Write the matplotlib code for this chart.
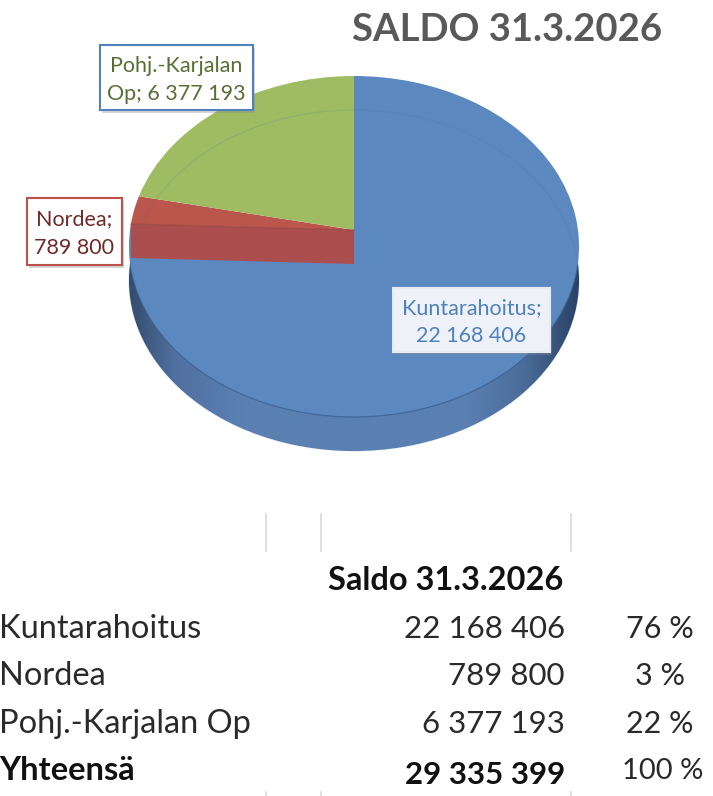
#!/usr/bin/env python3

import numpy as np
import matplotlib
matplotlib.use("Agg")
from matplotlib import pyplot as plt
from matplotlib.colors import LinearSegmentedColormap
from matplotlib.patches import Rectangle
from matplotlib.transforms import Transform

title = "SALDO 31.3.2026"
table_header = "Saldo 31.3.2026"
names = ["Kuntarahoitus", "Nordea", "Pohj.-Karjalan Op"]
values = [22168406, 789800, 6377193]
value_labels = ["22 168 406", "789 800", "6 377 193"]
percents = ["76 %", "3 %", "22 %"]
total_name = "Yhteensä"
total_label = "29 335 399"
total_percent = "100 %"
colors = ["#5b88bf", "#bb564c", "#9fbc63"]

W, H = 713, 796
CX, CY = 354, 230      # pie apex in pixels
DEPTH = 34             # height of the 3d wall
KP = 0.0968            # perspective of the tilted disc
RX, RY = 224, 168.9


class Tilt(Transform):
    # unit pie -> tilted disc in pixels
    input_dims = output_dims = 2

    def __init__(self, dy=0):
        super().__init__()
        self.dy = dy

    def transform_non_affine(self, xy):
        xy = np.asarray(xy)
        w = 1 + KP * xy[:, 1]
        return np.column_stack([CX + RX * xy[:, 0] / w,
                                CY + self.dy - RY * xy[:, 1] / w])


plt.rcParams["font.family"] = ["Lato", "DejaVu Sans"]
fig = plt.figure(figsize=(W / 100, H / 100), dpi=100)
ax = fig.add_axes([0, 0, 1, 1])

wedges, _ = ax.pie(values, startangle=90, counterclock=False, colors=colors)
ax.set_aspect("auto")
ax.set_xlim(0, W)
ax.set_ylim(H, 0)
ax.axis("off")

top = Tilt() + ax.transData
low = Tilt(DEPTH) + ax.transData

# wall, drawn as the lower disc with a sideways gradient
wall_cmap = LinearSegmentedColormap.from_list(
    "wall", [(0, "#344c6e"), (0.1, "#5070a0"), (0.25, "#5a80b2"), (0.75, "#5a80b2"),
             (0.88, "#4a6c98"), (1, "#2a4266")])
wall = ax.imshow(np.linspace(0, 1, 256).reshape(1, -1), cmap=wall_cmap,
                 extent=(129, 579, 460, 240), aspect="auto", zorder=1)
disc = ax.pie([1], center=(0, 0), colors=["none"])[0][0]
disc.set_transform(low)
wall.set_clip_path(disc)
ax.set_aspect("auto")
ax.set_xlim(0, W)
ax.set_ylim(H, 0)
ax.axis("off")

for w in wedges:
    w.set_transform(top)
    w.set_zorder(2)
    w.set_edgecolor("none")

# inner wall of the red slice shows through
red_theta = np.deg2rad(90 - 360 * values[0] / sum(values))
ex, ey = np.cos(red_theta), np.sin(red_theta)
t = np.array([[0, 0], [ex, ey]])
p = Tilt().transform_non_affine(t)
ax.fill([p[0, 0], p[1, 0], p[1, 0], p[0, 0]],
        [p[0, 1], p[1, 1], p[1, 1] + DEPTH, p[0, 1] + DEPTH],
        color="#ad4e4e", zorder=3, lw=0)
ax.plot(p[:, 0], p[:, 1], color="#96403c", lw=0.8, alpha=0.7, zorder=4)

# back edge of the lower disc, faint through the top
theta = np.linspace(0, 2 * np.pi, 300)
unit = np.column_stack([np.cos(theta), np.sin(theta)])
ring = Tilt(DEPTH).transform_non_affine(unit)
ax.plot(ring[:, 0], ring[:, 1], color="#3e6a9c", alpha=0.13, lw=1, zorder=4)

# dark seam where the top face meets the wall
seam = Tilt().transform_non_affine(unit[160:290])
ax.plot(seam[:, 0], seam[:, 1], color="#3a6090", alpha=0.75, lw=0.9, zorder=4)

ax.text(507, 30, title, ha="center", va="center", fontsize=27.5, fontweight="bold", color="#595959")


def label(x0, y0, x1, y1, lines, edge, face, fg):
    # shadow, box, two text lines
    ax.add_patch(Rectangle((x0 + 2, y0 + 3), x1 - x0, y1 - y0, fc="#888888", alpha=0.35, ec="none", zorder=5))
    ax.add_patch(Rectangle((x0, y0), x1 - x0, y1 - y0, fc=face, ec=edge, lw=1.5, zorder=6))
    mid = (y0 + y1) / 2
    for y, s in zip([mid - 12, mid + 16], lines):
        ax.text((x0 + x1) / 2, y, s, ha="center", va="center", fontsize=15.5, color=fg, zorder=7)


label(100, 45, 253, 110, ["Pohj.-Karjalan", "Op; 6 377 193"], "#4f81bd", "white", "#586f34")
label(27, 198, 122, 265, ["Nordea;", "789 800"], "#c0504d", "white", "#6e2a28")
label(393, 288, 550, 352, ["Kuntarahoitus;", "22 168 406"], "#e8edf5", "#eef2f8", "#4f81bd")

# table below the chart
for x in [266, 321, 571]:
    ax.plot([x, x], [514, 551], color="#d9d9d9", lw=1.2)
    ax.plot([x, x], [792, 796], color="#d9d9d9", lw=1.2)

ax.text(563, 581, table_header, ha="right", va="center", fontsize=23.5, fontweight="bold", color="#111111")
ys = [629, 676, 724]
for y, name, v, pc in zip(ys, names, value_labels, percents):
    ax.text(-1, y, name, ha="left", va="center", fontsize=23.5, color="#2a2a2a")
    ax.text(565, y, v, ha="right", va="center", fontsize=22.5, color="#2a2a2a")
    ax.text(660, y, pc, ha="center", va="center", fontsize=22, color="#2a2a2a")
ax.text(-1, 771, total_name, ha="left", va="center", fontsize=23.5, fontweight="bold", color="#111111")
ax.text(565, 775, total_label, ha="right", va="center", fontsize=22.5, fontweight="bold", color="#111111")
ax.text(663, 771, total_percent, ha="center", va="center", fontsize=21, color="#2a2a2a")

fig.savefig("out.png", dpi=100)
